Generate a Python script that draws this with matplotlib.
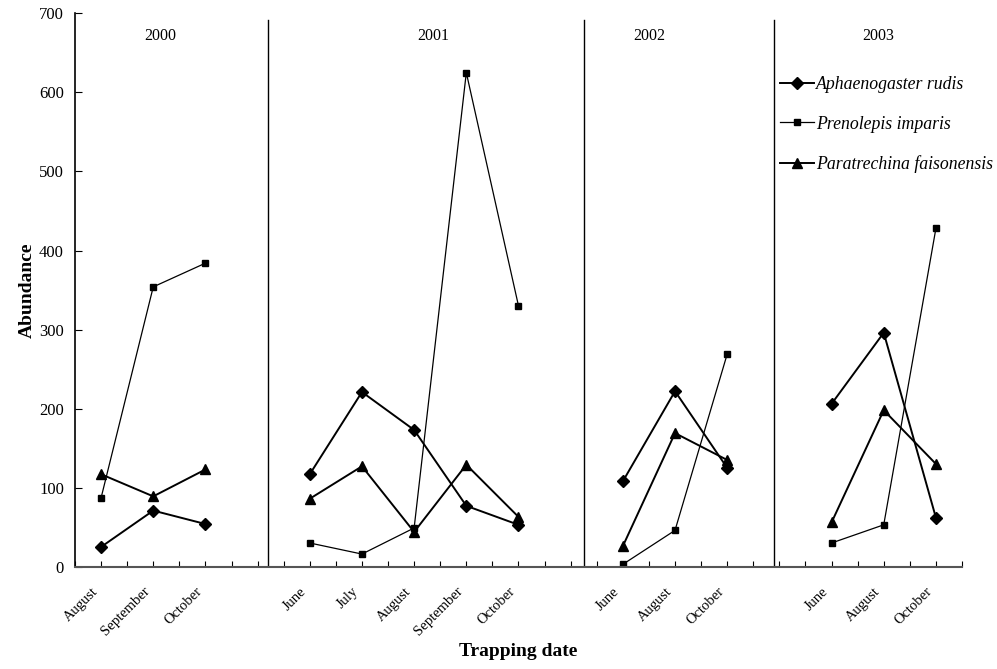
import matplotlib.pyplot as plt
import matplotlib.transforms as mtransforms

plt.rcParams['font.family'] = 'Liberation Serif'

# category slot of each trapping date on the x axis (Excel-style category axis)
years = ['2000', '2001', '2002', '2003']
months = [['August', 'September', 'October'],
          ['June', 'July', 'August', 'September', 'October'],
          ['June', 'August', 'October'],
          ['June', 'August', 'October']]
slots = [[1, 3, 5], [9, 11, 13, 15, 17], [21, 23, 25], [29, 31, 33]]

aphaenogaster = [[25, 71, 54], [117, 221, 173, 77, 53], [108, 222, 125], [206, 296, 62]]
prenolepis = [[87, 354, 384], [30, 16, 49, 625, 330], [3, 46, 269], [30, 53, 428]]
paratrechina = [[117, 89, 123], [86, 127, 44, 129, 63], [26, 169, 135], [56, 198, 130]]

dividers = [7.4, 19.5, 26.8]
year_x = [3.25, 13.75, 22.0, 30.8]

fig, ax = plt.subplots(figsize=(9.97, 6.69), dpi=100)
fig.subplots_adjust(left=0.0752, right=0.9649, bottom=0.1529, top=0.980)

series = [
    ('Aphaenogaster rudis', aphaenogaster, 'D', 6, 1.4),
    ('Prenolepis imparis', prenolepis, 's', 4.5, 0.9),
    ('Paratrechina faisonensis', paratrechina, '^', 7.5, 1.4),
]
for name, vals, mk, ms, lw in series:
    for i in range(len(years)):
        ax.plot(slots[i], vals[i], color='black', marker=mk, markersize=ms,
                linewidth=lw, label=name if i == 0 else None)

for d in dividers:
    ax.plot([d, d], [0, 691], color='black', linewidth=1)
for x, y in zip(year_x, years):
    ax.text(x, 672, y, ha='center', va='center', fontsize=11.5)

ax.set_xlim(0, 34)
ax.set_ylim(0, 700)
ax.set_yticks(range(0, 701, 100))
ax.set_xticks(range(0, 35))
labels = [''] * 35
for i in range(len(years)):
    for s, m in zip(slots[i], months[i]):
        labels[s] = m
ax.set_xticklabels(labels, rotation=45, ha='right', rotation_mode='anchor', fontsize=10.5)
ax.tick_params(axis='x', length=4, direction='in', pad=13)
ax.tick_params(axis='y', length=5, direction='in', labelsize=12, pad=8)
shift = mtransforms.ScaledTranslation(-10 / 100, 0, fig.dpi_scale_trans)
for lab in ax.get_xticklabels():
    lab.set_transform(lab.get_transform() + shift)
for sp in ['top', 'right']:
    ax.spines[sp].set_visible(False)
ax.spines['bottom'].set_color('#555555')
ax.spines['bottom'].set_linewidth(1.5)
ax.spines['left'].set_linewidth(1.2)

ax.set_ylabel('Abundance', fontsize=14, fontweight='bold', labelpad=2)
ax.set_xlabel('Trapping date', fontsize=14, fontweight='bold')
ax.xaxis.set_label_coords(0.5, -0.138)

ax.legend(loc='upper left', bbox_to_anchor=(0.787, 0.9), frameon=False,
          prop={'family': 'Liberation Serif', 'style': 'italic', 'size': 12.8},
          handlelength=1.9, handletextpad=0.1, labelspacing=1.28, borderaxespad=0)

fig.savefig('out.png', dpi=100)
